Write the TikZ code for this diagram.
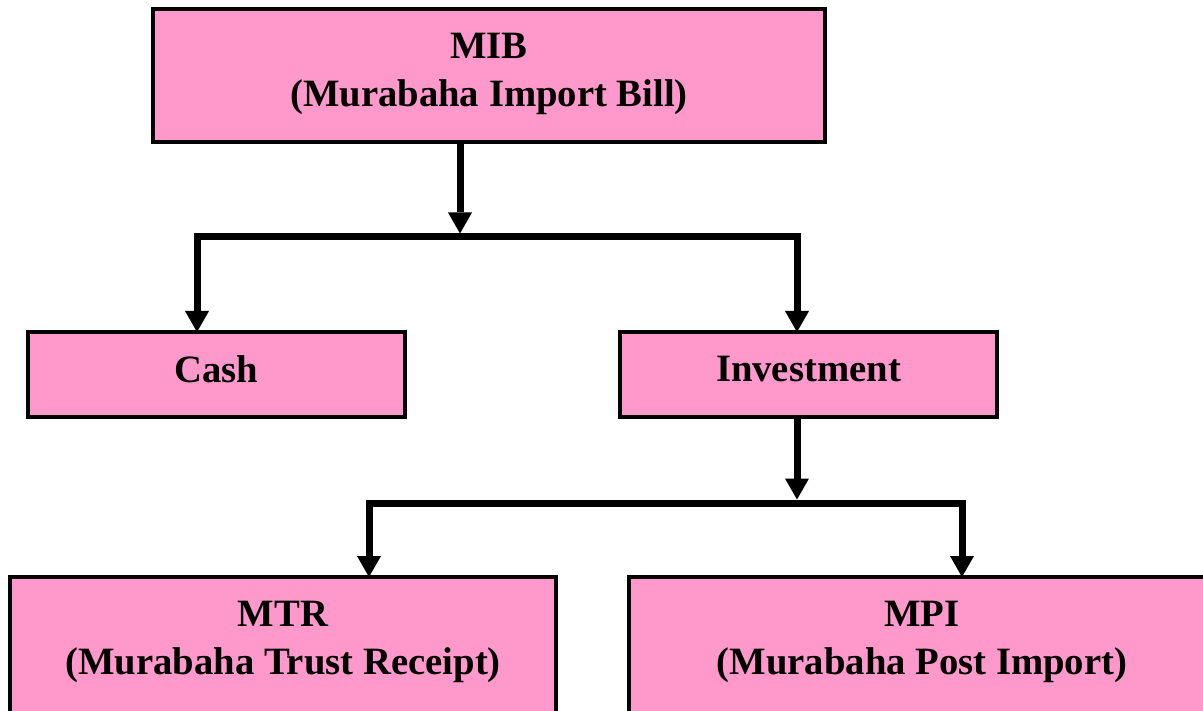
\documentclass[tikz,border=0pt]{standalone}
\usepackage{fontspec}
\setmainfont{Liberation Serif}
\usetikzlibrary{arrows.meta}
\definecolor{boxpink}{HTML}{FF99CC}
\begin{document}
\begin{tikzpicture}[x=1pt,y=-1pt,
  box/.style={draw=black,fill=boxpink,line width=3.5pt,rectangle,
    inner sep=0pt,outer sep=0pt,anchor=north west},
  caption/.style={font=\bfseries\fontsize{38.7}{48}\selectfont,
    align=center,inner sep=0pt,anchor=north},
  bar/.style={line width=7pt,line join=miter,line cap=butt},
  head/.tip={Triangle[width=24pt,length=21pt,line width=0pt]},
  tip/.style={-head},
  tips/.style={head-head}]
\useasboundingbox (0,0) rectangle (1203,711);
\clip (0,0) rectangle (1203,711);

% boxes
\node[box,minimum width=672pt,minimum height=133pt] (mib) at (153,9) {};
\node[box,minimum width=377pt,minimum height=85pt] (cash) at (28,332) {};
\node[box,minimum width=377pt,minimum height=85pt] (inv) at (620,332) {};
\node[box,minimum width=546pt,minimum height=180pt] (mtr) at (10,577) {};
\node[box,minimum width=586pt,minimum height=180pt] (mpi) at (629,577) {};

% captions
\node[caption] (mibtext) at ([yshift=-23.5pt]mib.north) {MIB\\(Murabaha Import Bill)};
\node[caption] (cashtext) at ([yshift=-23.5pt]cash.north) {Cash};
\node[caption] (invtext) at ([yshift=-23.5pt]inv.north) {Investment};
\node[caption] (mtrtext) at ([yshift=-23.5pt]mtr.north) {MTR\\(Murabaha Trust Receipt)};
\node[caption] (mpitext) at ([yshift=-23.5pt]mpi.north) {MPI\\(Murabaha Post Import)};

% first split
\coordinate (j1) at (460,237);
\coordinate (cl) at (197,237);
\coordinate (cr) at (797,237);
\draw[bar,tip] (mib.south -| j1) -- ([yshift=3.5pt]j1);
\draw[bar,tips] (cash.north -| cl) -- (cl) -- (cr) -- (inv.north -| cr);

% second split
\coordinate (j2) at (797,503);
\coordinate (ml) at (369,503);
\coordinate (mr) at (962,503);
\draw[bar,tip] (inv.south -| j2) -- ([yshift=3.5pt]j2);
\draw[bar,tips] (mtr.north -| ml) -- (ml) -- (mr) -- (mpi.north -| mr);
\end{tikzpicture}
\end{document}
